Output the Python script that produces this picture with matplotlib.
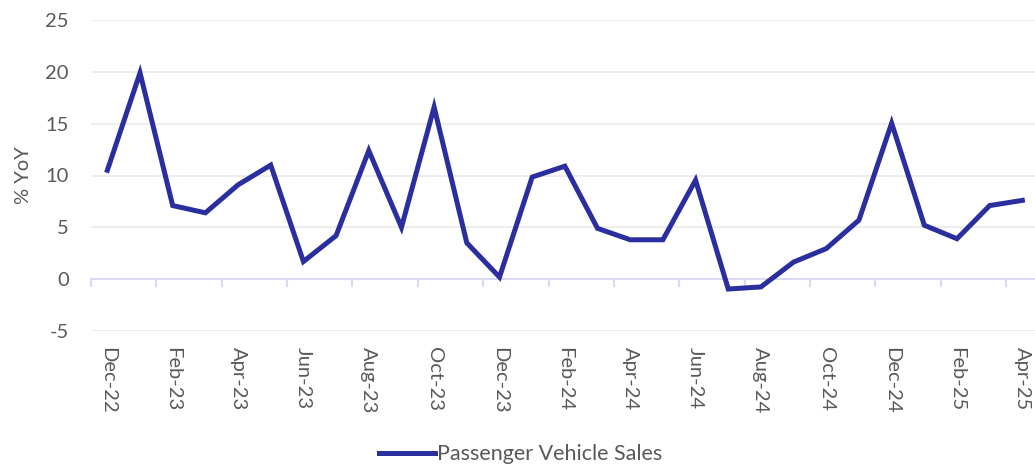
import matplotlib.pyplot as plt
import numpy as np

plt.rcParams['font.family'] = ['Lato', 'DejaVu Sans']
plt.rcParams['axes.unicode_minus'] = False

months = ['Dec-22', 'Jan-23', 'Feb-23', 'Mar-23', 'Apr-23', 'May-23', 'Jun-23', 'Jul-23',
          'Aug-23', 'Sep-23', 'Oct-23', 'Nov-23', 'Dec-23', 'Jan-24', 'Feb-24', 'Mar-24',
          'Apr-24', 'May-24', 'Jun-24', 'Jul-24', 'Aug-24', 'Sep-24', 'Oct-24', 'Nov-24',
          'Dec-24', 'Jan-25', 'Feb-25', 'Mar-25', 'Apr-25']
pv_sales = [10.5, 19.9, 7.1, 6.4, 9.1, 11.0, 1.7, 4.2,
            12.4, 5.0, 16.6, 3.5, 0.2, 9.85, 10.9, 4.9,
            3.8, 3.8, 9.55, -0.95, -0.75, 1.65, 2.95, 5.7,
            15.05, 5.2, 3.9, 7.1, 7.6]

line_color = '#2a2e9f'
text_color = '#595959'
axis_color = '#d9d9f3'
grid_color = '#ececec'

fig = plt.figure(figsize=(10.35, 4.66), dpi=100)
ax = fig.add_axes([91 / 1035, 1 - 331 / 466, 947.7 / 1035, 311 / 466])

x = np.arange(len(months))
ax.plot(x, pv_sales, color=line_color, linewidth=3.6, solid_joinstyle='miter',
        label='Passenger Vehicle Sales', zorder=3)

ax.set_xlim(-0.5, len(months) - 0.5)
ax.set_ylim(-5, 25)
ax.set_yticks(np.arange(-5, 26, 5))
ax.yaxis.grid(True, color=grid_color, linewidth=1.3)
ax.set_axisbelow(True)

for s in ['top', 'right', 'left']:
    ax.spines[s].set_visible(False)
ax.spines['bottom'].set_position(('data', 0))
ax.spines['bottom'].set_color(axis_color)
ax.spines['bottom'].set_linewidth(1.5)
ax.spines['bottom'].set_zorder(2)

ax.set_xticks(x[::2])
ax.set_xticklabels(months[::2], rotation=-90, va='top', ha='center')
ax.set_xticks(np.arange(-0.5, len(months), 2), minor=True)
ax.tick_params(axis='x', which='major', length=0, pad=49, labelsize=14.5, labelcolor=text_color)
ax.tick_params(axis='x', which='minor', length=6, width=1.5, color=axis_color)
ax.tick_params(axis='y', length=0, pad=16, labelsize=14.5, labelcolor=text_color)

ax.set_ylabel('% YoY', color=text_color, fontsize=14.5)
ax.yaxis.set_label_coords(-0.062, 0.5)

fig.legend(loc='lower center', bbox_to_anchor=(0.503, -0.038), frameon=False,
           fontsize=15.5, handlelength=2.6, handletextpad=0.1, labelcolor=text_color)

fig.savefig('out.png', dpi=100)
